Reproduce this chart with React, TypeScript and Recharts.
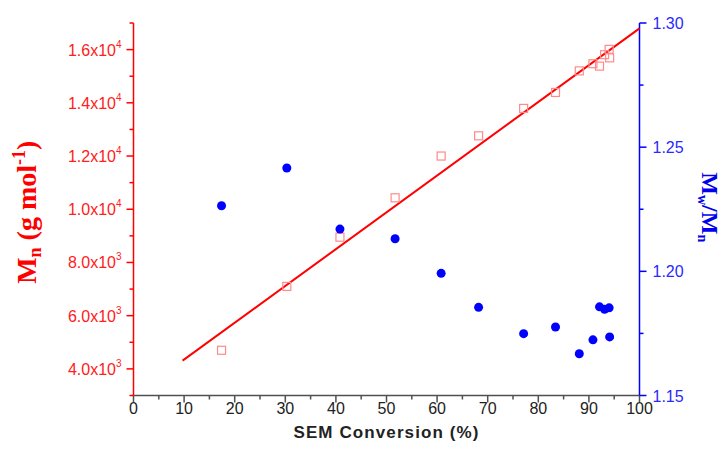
import React from 'react';
import { ComposedChart, Scatter, XAxis, YAxis } from 'recharts';

// SEM conversion (%) for each sample
const conversion = [17.4, 30.3, 40.8, 51.7, 60.8, 68.2, 77.1, 83.4, 88.1, 90.8, 92.1, 93.1, 94.0, 94.1];
// Mn (g/mol)
const mnValues = [4700, 7100, 8950, 10430, 12000, 12760, 13790, 14390, 15200, 15470, 15380, 15810, 16010, 15690];
// Mw/Mn
const pdiValues = [1.2264, 1.2416, 1.217, 1.2131, 1.1992, 1.1855, 1.1749, 1.1776, 1.1668, 1.1724, 1.1857, 1.1847, 1.1853, 1.1736];
// linear fit of Mn
const fitConversion = [9.7, 100];
const fitMn = [4310, 16800];

const xTicks = [0, 5, 10, 15, 20, 25, 30, 35, 40, 45, 50, 55, 60, 65, 70, 75, 80, 85, 90, 95, 100];
const mnTicks = [3000, 4000, 5000, 6000, 7000, 8000, 9000, 10000, 11000, 12000, 13000, 14000, 15000, 16000, 17000];
const pdiTicks = [1.15, 1.175, 1.2, 1.225, 1.25, 1.275, 1.3];

const mnData = conversion.map((x, i) => ({ x, y: mnValues[i] }));
const pdiData = conversion.map((x, i) => ({ x, y: pdiValues[i] }));
const fitData = fitConversion.map((x, i) => ({ x, y: fitMn[i] }));

const RED = '#ff0000';
const BLUE = '#0000ff';
const AXIS = '#505050';
const SANS = '"Liberation Sans", Arial, sans-serif';
const SERIF = '"Liberation Serif", "Times New Roman", serif';

const BottomTick = (props: any) => {
  const { x, y, payload } = props;
  const major = payload.value % 10 === 0;
  return (
    <g>
      <line x1={x} x2={x} y1={y} y2={y + (major ? 7 : 4)} stroke={AXIS} strokeWidth={1.5} />
      {major && (
        <text x={x} y={y + 18} textAnchor="middle" fontSize={16} fontFamily={SANS} fill="#222">
          {payload.value}
        </text>
      )}
    </g>
  );
};

const TopTick = (props: any) => {
  const { x, y, payload } = props;
  const major = payload.value % 10 === 0;
  return <line x1={x} x2={x} y1={y} y2={y + (major ? 8 : 4)} stroke={AXIS} strokeWidth={1.5} />;
};

const MnTick = (props: any) => {
  const { x, y, payload } = props;
  const v = payload.value;
  const major = v % 2000 === 0;
  const exp = Math.floor(Math.log10(v));
  const mant = (v / Math.pow(10, exp)).toFixed(1);
  return (
    <g>
      <line x1={x} x2={x - (major ? 7 : 4)} y1={y} y2={y} stroke={RED} strokeWidth={1.5} />
      {major && (
        <text x={x - 12} y={y} dy={6} textAnchor="end" fontSize={16} fontFamily={SANS} fill="#ff2020">
          <tspan>{mant}x10</tspan>
          <tspan dy={-8} fontSize={10}>{exp}</tspan>
        </text>
      )}
    </g>
  );
};

const PdiTick = (props: any) => {
  const { x, y, payload, index } = props;
  const major = index % 2 === 0;
  return (
    <g>
      <line x1={x} x2={x + (major ? 7 : 4)} y1={y} y2={y} stroke={BLUE} strokeWidth={1.5} />
      {major && (
        <text x={x + 13} y={y} dy={6} textAnchor="start" fontSize={16} fontFamily={SANS} fill="#2a2aff">
          {payload.value.toFixed(2)}
        </text>
      )}
    </g>
  );
};

const XTitle = (props: any) => {
  const { x, y, width } = props.viewBox;
  return (
    <text x={x + width / 2} y={y + 42} textAnchor="middle" fontSize={17} fontWeight="bold" fontFamily={SANS} fill="#222" letterSpacing={1.1}>
      SEM Conversion (%)
    </text>
  );
};

const MnTitle = (props: any) => {
  const { x, y, height } = props.viewBox;
  const cx = x + 36;
  const cy = y + height / 2 + 3;
  return (
    <text x={cx} y={cy} transform={`rotate(-90, ${cx}, ${cy})`} textAnchor="middle" fontSize={28} fontWeight="bold" fontFamily={SERIF} fill={RED}>
      <tspan>M</tspan>
      <tspan dy={5} fontSize={18}>n</tspan>
      <tspan dy={-5}> (g mol</tspan>
      <tspan dy={-11} fontSize={18}>-1</tspan>
      <tspan dy={11}>)</tspan>
    </text>
  );
};

const PdiTitle = (props: any) => {
  const { x, y, height } = props.viewBox;
  const cx = x + 62;
  const cy = y + height / 2 - 2;
  return (
    <text x={cx} y={cy} transform={`rotate(90, ${cx}, ${cy})`} textAnchor="middle" fontSize={24} fontWeight="bold" fontFamily={SERIF} fill="#0000ee">
      <tspan>M</tspan>
      <tspan dy={4} fontSize={14}>w</tspan>
      <tspan dy={-4}>/M</tspan>
      <tspan dy={4} fontSize={14}>n</tspan>
    </text>
  );
};

const SquareShape = (props: any) => {
  const { cx, cy } = props;
  return <rect x={cx - 4} y={cy - 4} width={8} height={8} fill="none" stroke="#ff8a8a" strokeWidth={1.2} />;
};

const DotShape = (props: any) => {
  const { cx, cy } = props;
  return <circle cx={cx} cy={cy} r={4.5} fill={BLUE} />;
};

const NoShape = () => null;

export default function App() {
  return (
    <div style={{ position: 'absolute', left: 0, top: 0, background: '#fff' }}>
      <ComposedChart width={724} height={452} margin={{ top: 23, right: 0, bottom: 0, left: 0 }}>
        <XAxis
          xAxisId="bottom"
          dataKey="x"
          type="number"
          domain={[0, 100]}
          ticks={xTicks}
          interval={0}
          height={56.5}
          axisLine={{ stroke: AXIS, strokeWidth: 1.5 }}
          tickLine={false}
          tickSize={0}
          tickMargin={0}
          tick={<BottomTick />}
          label={{ content: XTitle }}
        />
        <XAxis
          xAxisId="top"
          orientation="top"
          dataKey="x"
          type="number"
          domain={[0, 100]}
          ticks={xTicks}
          interval={0}
          height={0}
          axisLine={{ stroke: AXIS, strokeWidth: 1.5 }}
          tickLine={false}
          tickSize={0}
          tickMargin={0}
          tick={<TopTick />}
        />
        <YAxis
          yAxisId="mn"
          dataKey="y"
          type="number"
          domain={[3000, 17000]}
          ticks={mnTicks}
          interval={0}
          width={133.5}
          axisLine={{ stroke: RED, strokeWidth: 1.5 }}
          tickLine={false}
          tickSize={0}
          tickMargin={0}
          tick={<MnTick />}
          label={{ content: MnTitle }}
        />
        <YAxis
          yAxisId="pdi"
          orientation="right"
          dataKey="y"
          type="number"
          domain={[1.15, 1.3]}
          ticks={pdiTicks}
          interval={0}
          width={84.5}
          axisLine={{ stroke: BLUE, strokeWidth: 1.5 }}
          tickLine={false}
          tickSize={0}
          tickMargin={0}
          tick={<PdiTick />}
          label={{ content: PdiTitle }}
        />
        <Scatter
          xAxisId="bottom"
          yAxisId="mn"
          data={fitData}
          line={{ stroke: RED, strokeWidth: 2 }}
          shape={NoShape}
          isAnimationActive={false}
        />
        <Scatter xAxisId="bottom" yAxisId="mn" data={mnData} shape={SquareShape} isAnimationActive={false} />
        <Scatter xAxisId="bottom" yAxisId="pdi" data={pdiData} shape={DotShape} isAnimationActive={false} />
      </ComposedChart>
    </div>
  );
}
